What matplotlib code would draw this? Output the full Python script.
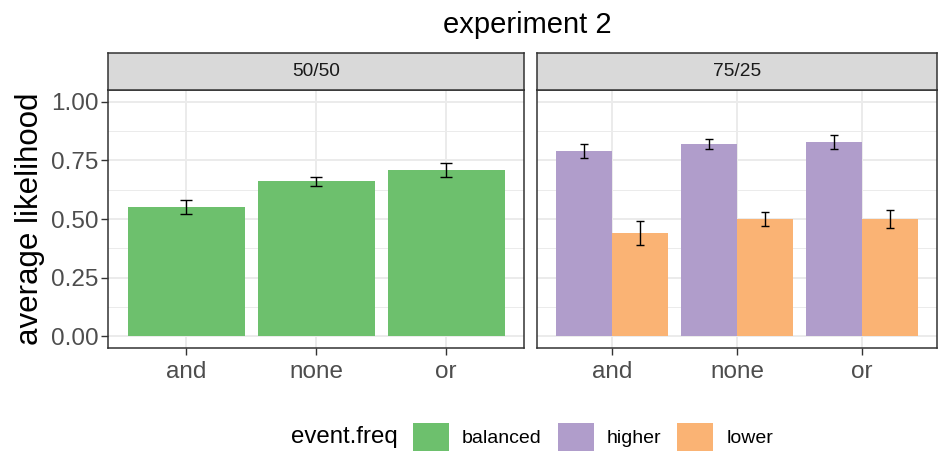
import matplotlib
matplotlib.use("Agg")
from matplotlib import pyplot as plt
from matplotlib.patches import Patch
import numpy as np

plt.rcParams['font.family'] = ['Liberation Sans', 'DejaVu Sans']

# data
conditions = ["and", "none", "or"]
facets = ["50/50", "75/25"]
balanced_mean = [0.55, 0.66, 0.71]
balanced_err = [0.03, 0.02, 0.03]
higher_mean = [0.79, 0.82, 0.83]
higher_err = [0.03, 0.02, 0.03]
lower_mean = [0.44, 0.50, 0.50]
lower_err = [0.05, 0.03, 0.04]
yticks = [0.00, 0.25, 0.50, 0.75, 1.00]

col_bal = "#6DC06D"
col_hi = "#B09DCB"
col_lo = "#FAB374"
edge = "#333333"

W, H = 940, 454
fig = plt.figure(figsize=(W / 100, H / 100), dpi=100)

def px(x0, y0, x1, y1):
    return [x0 / W, 1 - y1 / H, (x1 - x0) / W, (y1 - y0) / H]

ax1 = fig.add_axes(px(108, 90, 524, 348))
ax2 = fig.add_axes(px(537, 90, 937, 348))
s1 = fig.add_axes(px(108, 53, 524, 90))
s2 = fig.add_axes(px(537, 53, 937, 90))

x = np.arange(1, len(conditions) + 1)

def style(ax, show_y):
    ax.set_xlim(0.4, 3.6)
    ax.set_ylim(-0.05, 1.05)
    ax.set_xticks(x)
    ax.set_xticklabels(conditions, fontsize=17.5, color="#4D4D4D")
    ax.set_yticks(yticks)
    ax.set_yticks([0.125, 0.375, 0.625, 0.875], minor=True)
    if show_y:
        ax.set_yticklabels(["%.2f" % v for v in yticks], fontsize=17.5, color="#4D4D4D")
        ax.tick_params(axis="y", length=5, color=edge, width=1, pad=2)
    else:
        ax.tick_params(axis="y", left=False, labelleft=False)
    ax.tick_params(axis="y", which="minor", left=False)
    ax.tick_params(axis="x", length=5, color=edge, width=1, pad=4)
    ax.grid(True, which="major", color="#EBEBEB", linewidth=1.4)
    ax.grid(True, which="minor", axis="y", color="#EBEBEB", linewidth=0.7)
    ax.set_axisbelow(True)
    for sp in ax.spines.values():
        sp.set_color(edge)
        sp.set_linewidth(1.1)

style(ax1, True)
style(ax2, False)

ax1.bar(x, balanced_mean, width=0.9, color=col_bal)
ax1.errorbar(x, balanced_mean, yerr=balanced_err, fmt="none", ecolor="black",
             elinewidth=1, capsize=4.3, capthick=1)

bw = 0.45
ax2.bar(x - bw / 2, higher_mean, width=bw, color=col_hi)
ax2.bar(x + bw / 2, lower_mean, width=bw, color=col_lo)
ax2.errorbar(x - bw / 2, higher_mean, yerr=higher_err, fmt="none", ecolor="black",
             elinewidth=1, capsize=2.6, capthick=1)
ax2.errorbar(x + bw / 2, lower_mean, yerr=lower_err, fmt="none", ecolor="black",
             elinewidth=1, capsize=2.6, capthick=1)

ax1.set_ylabel("average likelihood", fontsize=22.5, labelpad=4)

for s, name in zip([s1, s2], facets):
    s.set_facecolor("#D9D9D9")
    s.set_xticks([])
    s.set_yticks([])
    for sp in s.spines.values():
        sp.set_color(edge)
        sp.set_linewidth(1.1)
    s.text(0.5, 0.5, name, ha="center", va="center", fontsize=13.8,
           color="#1A1A1A", transform=s.transAxes)

fig.text(527 / W, 1 - 25 / H, "experiment 2", ha="center", va="center", fontsize=21)

handles = [Patch(facecolor=col_bal), Patch(facecolor=col_hi), Patch(facecolor=col_lo)]
fig.text(398 / W, 1 - 437 / H, "event.freq", ha="right", va="center", fontsize=17.3)
fig.legend(handles, ["balanced", "higher", "lower"], ncol=3, frameon=False,
           loc="center left", bbox_to_anchor=(413 / W, 1 - 437 / H),
           fontsize=14, handlelength=1.85, handleheight=1.8,
           handletextpad=0.67, columnspacing=0.82, borderaxespad=0, borderpad=0)

fig.savefig("out.png", dpi=100)
